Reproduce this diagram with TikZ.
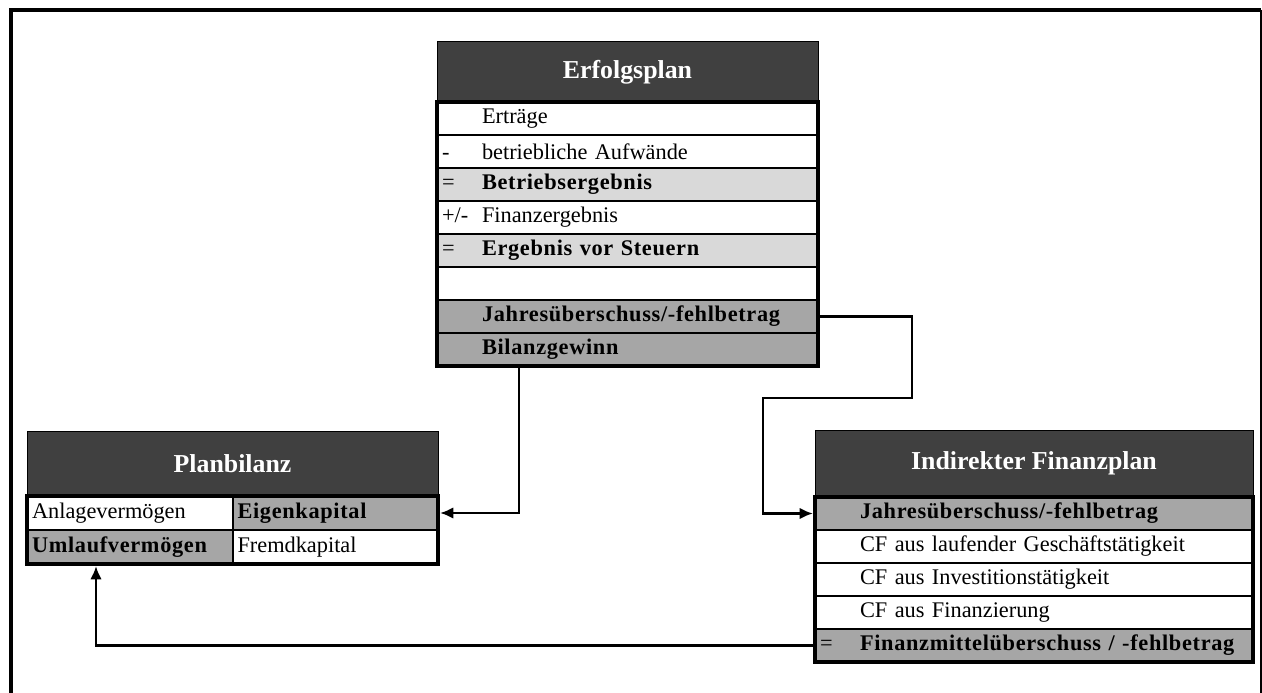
\documentclass[tikz,border=0pt]{standalone}
\usepackage{fontspec}
\setmainfont{Liberation Serif}
\usetikzlibrary{positioning,arrows.meta}
\definecolor{titlegray}{HTML}{404040}
\definecolor{lightrow}{HTML}{D9D9D9}
\definecolor{midrow}{HTML}{A6A6A6}
\newcommand{\tabfont}{\fontsize{13.4}{16}\selectfont}
\newcommand{\pre}[1]{\makebox[24pt][l]{#1}}
\newcommand{\bt}[1]{\textbf{\addfontfeature{LetterSpace=3}#1}}
\tikzset{
  tabtitle/.style={draw=black, line width=0.6pt, fill=titlegray, text=white, font=\fontsize{15.5}{18}\selectfont\bfseries, inner sep=0pt, outer sep=0pt},
  tabrow/.style={draw=black, line width=1.2pt, fill=white, font=\tabfont, inner xsep=3pt, inner ysep=0pt, outer sep=0pt, align=left, minimum height=19.8pt},
  eprow/.style={tabrow, text width=222.6pt},
  fprow/.style={tabrow, text width=256.8pt},
  pbcell/.style={tabrow, text width=117.3pt, minimum height=20.4pt},
  tabframe/.style={line width=2.4pt},
  conn/.style={line width=1.6pt, -{Latex[length=8pt,width=7pt]}, shorten >=1.2pt}
}
\begin{document}
\begin{tikzpicture}[x=0.6pt,y=-0.6pt]
\useasboundingbox (0,0) rectangle (1262,693);
\draw[line width=2.4pt] (11,693) -- (11,10) -- (1261,10);
\draw[line width=1.2pt] (1261,10) -- (1261,693);
% Erfolgsplan
\node[tabtitle, minimum width=228.6pt, minimum height=36pt, anchor=north west] (ep) at (437,42) {Erfolgsplan};
\node[eprow, below=0pt of ep] (ep1) {\pre{}Erträge};
\node[eprow, below=0pt of ep1] (ep2) {\pre{-}betriebliche Aufwände};
\node[eprow, fill=lightrow, below=0pt of ep2] (ep3) {\pre{=}\bt{Betriebsergebnis}};
\node[eprow, below=0pt of ep3] (ep4) {\pre{+/-}Finanzergebnis};
\node[eprow, fill=lightrow, below=0pt of ep4] (ep5) {\pre{=}\bt{Ergebnis vor Steuern}};
\node[eprow, below=0pt of ep5] (ep6) {};
\node[eprow, fill=midrow, below=0pt of ep6] (ep7) {\pre{}\bt{Jahresüberschuss/-fehlbetrag}};
\node[eprow, fill=midrow, below=0pt of ep7] (ep8) {\pre{}\bt{Bilanzgewinn}};
\draw[tabframe] (ep1.north west) rectangle (ep8.south east);
% Planbilanz
\node[tabtitle, minimum width=246.6pt, minimum height=39pt, anchor=north west] (pb) at (27,431) {Planbilanz};
\node[pbcell, anchor=north west] (pba) at (pb.south west) {Anlagevermögen};
\node[pbcell, fill=midrow, right=0pt of pba] (pbe) {\bt{Eigenkapital}};
\node[pbcell, fill=midrow, below=0pt of pba] (pbu) {\bt{Umlaufvermögen}};
\node[pbcell, right=0pt of pbu] (pbf) {Fremdkapital};
\draw[tabframe] (pba.north west) rectangle (pbf.south east);
% Indirekter Finanzplan
\node[tabtitle, minimum width=262.8pt, minimum height=40.2pt, anchor=north west] (fp) at (815,430) {Indirekter Finanzplan};
\node[fprow, fill=midrow, below=0pt of fp] (fp1) {\pre{}\bt{Jahresüberschuss/-fehlbetrag}};
\node[fprow, below=0pt of fp1] (fp2) {\pre{}CF aus laufender Geschäftstätigkeit};
\node[fprow, below=0pt of fp2] (fp3) {\pre{}CF aus Investitionstätigkeit};
\node[fprow, below=0pt of fp3] (fp4) {\pre{}CF aus Finanzierung};
\node[fprow, fill=midrow, below=0pt of fp4] (fp5) {\pre{=}\bt{Finanzmittelüberschuss / -fehlbetrag}};
\draw[tabframe] (fp1.north west) rectangle (fp5.south east);
% connectors
\coordinate (jr) at (912,398);
\coordinate (jl) at (763,398);
\draw[conn] ([xshift=49.2pt]ep8.south west) |- (pbe.east);
\draw[conn] (ep7.east) -| (jr) -- (jl) |- (fp1.west);
\draw[conn] (fp5.west) -| ([xshift=41.4pt]pbu.south west);
\end{tikzpicture}
\end{document}
